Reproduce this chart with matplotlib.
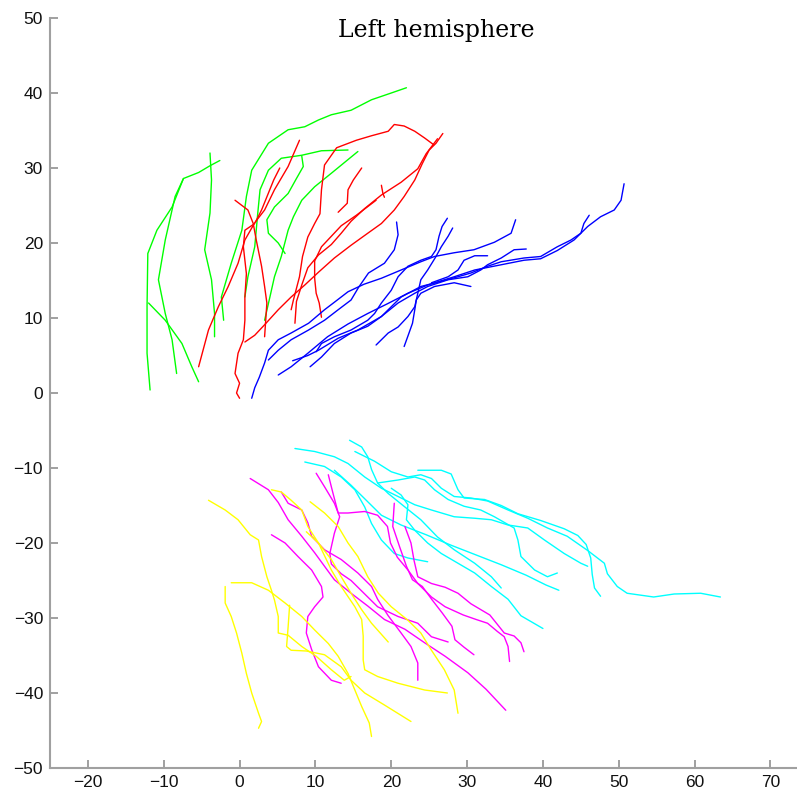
import matplotlib
matplotlib.use("Agg")
import matplotlib.pyplot as plt

# tracked paths, one list per path, grouped by colour (x, y in mm)
green_x = [
    [-11.8, -12.2, -12.2, -12.1, -10.9, -8.9, -7.4, -5.4, -3.9, -2.6],
    [-7.4, -8.5, -9.8, -10.7, -9.8, -8.9, -8.3],
    [-5.4, -6.3, -7.6, -9.8, -12.0],
    [-3.9, -3.7, -3.9, -4.6, -3.7, -3.3, -3.3],
    [-2.1, -2.4, -1.1, 0.3, 0.9, 1.6, 3.8, 6.4, 8.6, 10.4, 12.1, 14.7, 17.4, 20.0, 22.0],
    [14.3, 10.8, 8.2, 5.5, 3.8, 2.7, 2.4, 2.0, 1.1, 0.7],
    [8.2, 8.4, 7.5, 6.4, 4.6, 3.6, 3.8, 5.1, 6.0],
    [15.6, 12.1, 9.9, 8.2, 7.1, 6.4, 5.5, 4.6, 4.0, 3.3],
]
green_y = [
    [0.4, 5.3, 11.5, 18.6, 21.7, 24.8, 28.6, 29.4, 30.3, 31.0],
    [28.6, 26.2, 20.4, 15.1, 10.6, 7.1, 2.6],
    [1.5, 3.5, 6.6, 9.7, 12.0],
    [32.0, 28.4, 24.0, 19.1, 15.1, 10.6, 7.5],
    [9.7, 12.8, 17.3, 21.7, 26.2, 29.7, 33.3, 35.1, 35.5, 36.4, 37.1, 37.7, 39.1, 40.0, 40.7],
    [32.4, 32.3, 31.7, 31.3, 29.7, 27.1, 24.0, 19.5, 15.5, 12.8],
    [31.6, 30.2, 28.6, 26.6, 24.8, 23.1, 21.3, 20.0, 18.6],
    [32.2, 29.3, 27.5, 25.7, 23.5, 21.7, 18.2, 15.5, 12.8, 9.7],
]

red_x = [
    [7.9, 6.4, 4.6, 3.3, 2.0, 0.7, -0.2, -1.5, -2.8, -4.1, -5.4],
    [-0.6, 1.1, 1.8, 2.2, 2.9, 3.3, 3.6, 3.3],
    [2.0, 0.7, 0.5, 0.9, 0.7, 0.7, 0.5, -0.2, -0.6, 0.0, -0.4, 0.0],
    [26.8, 25.9, 25.0, 24.1, 23.1, 21.7, 20.4, 18.7, 16.9, 14.7, 12.5, 10.4, 8.6, 6.8, 5.1, 3.3, 2.0, 0.7],
    [26.1, 24.6, 23.5, 21.3, 18.7, 16.5, 14.7, 13.4, 12.1, 10.4, 9.0, 8.2, 7.5, 7.3],
    [6.8, 7.1, 7.9, 8.3, 9.0, 9.9, 10.6, 10.8, 11.2, 12.8, 15.4, 17.4, 19.6, 20.4, 21.7, 23.1, 24.4, 25.6],
    [18.0, 15.4, 13.4, 12.1, 10.8, 9.9, 9.9, 10.1, 10.5, 10.8],
    [16.1, 15.0, 14.3, 14.2, 13.0],
    [18.7, 18.9, 19.1],
    [5.3, 4.5, 3.7, 2.9, 2.1],
]
red_y = [
    [33.7, 30.2, 27.1, 24.4, 22.7, 20.4, 17.3, 14.2, 11.5, 8.4, 3.5],
    [25.7, 24.4, 22.6, 20.4, 16.9, 14.2, 12.0, 7.5],
    [22.6, 21.7, 19.5, 15.9, 12.8, 9.7, 7.1, 5.3, 2.6, 1.3, 0.0, -0.7],
    [34.6, 33.3, 32.4, 30.6, 28.4, 26.2, 24.4, 22.6, 21.3, 19.7, 18.0, 16.1, 14.4, 12.8, 11.1, 9.1, 7.7, 6.8],
    [33.9, 31.9, 29.9, 28.1, 26.4, 24.6, 22.9, 21.3, 19.8, 18.4, 16.7, 14.4, 12.2, 9.3],
    [11.1, 12.4, 15.5, 18.2, 20.8, 22.6, 23.9, 27.1, 30.4, 32.7, 33.7, 34.3, 34.9, 35.8, 35.6, 34.9, 34.0, 33.1],
    [25.7, 23.7, 22.3, 20.9, 19.5, 17.6, 15.3, 13.3, 12.0, 10.1],
    [30.0, 28.4, 27.1, 25.3, 24.1],
    [27.7, 26.6, 26.1],
    [30.0, 28.4, 26.4, 24.4, 22.8],
]

blue_x = [
    [1.6, 2.0, 2.6, 3.3, 3.8, 5.1, 6.8, 9.1, 11.2, 12.5, 14.3, 16.4, 18.7, 21.3, 23.9, 25.7, 28.3, 30.9, 33.6, 35.8, 36.4],
    [5.1, 6.8, 9.0, 11.6, 14.3, 16.9, 19.5, 22.2, 24.8, 28.3, 31.0, 34.5, 37.5, 39.7, 41.9, 44.1, 45.9, 47.6, 49.4, 50.3, 50.7],
    [7.0, 9.0, 10.4, 13.0, 15.6, 18.7, 21.3, 23.9, 26.6, 28.8, 30.5, 32.7, 34.5, 37.5, 39.7, 41.9, 43.7, 45.0, 45.4, 46.1],
    [9.3, 10.8, 12.5, 14.7, 16.9, 18.7, 20.9, 23.1, 24.8, 27.5, 30.1, 31.8, 32.7, 34.5, 36.2, 37.8],
    [20.7, 20.9, 20.4, 19.1, 17.0, 15.7, 14.7, 13.0, 11.2, 9.1, 6.8, 5.1, 3.8],
    [27.4, 26.7, 26.3, 25.9, 25.3, 23.9, 22.2, 20.9, 20.0, 18.7, 17.8, 16.9, 14.7, 12.5, 10.8, 10.1],
    [28.1, 27.5, 26.6, 25.9, 24.8, 23.9, 23.5, 23.1, 22.2, 20.9, 19.6, 18.0],
    [21.7, 22.2, 22.8, 23.1, 23.3, 23.9, 25.7, 28.3, 30.5],
    [32.7, 31.0, 29.6, 28.8, 27.5, 25.3],
]
blue_y = [
    [-0.7, 0.7, 2.1, 4.0, 5.7, 7.1, 8.0, 9.3, 11.1, 12.1, 13.5, 14.5, 15.3, 16.4, 17.5, 18.2, 18.7, 19.1, 20.1, 21.3, 23.1],
    [2.4, 3.5, 5.3, 7.5, 9.2, 10.6, 11.9, 13.3, 14.4, 15.5, 16.4, 17.1, 17.7, 17.9, 19.0, 20.4, 22.2, 23.5, 24.4, 25.7, 27.9],
    [4.3, 5.0, 5.7, 7.3, 8.4, 10.2, 12.8, 14.2, 14.9, 15.5, 16.0, 16.9, 17.5, 18.0, 18.2, 19.5, 20.4, 21.3, 22.6, 23.7],
    [3.5, 4.8, 6.6, 8.0, 8.9, 10.2, 12.0, 13.3, 14.2, 15.1, 15.5, 16.4, 17.1, 18.0, 19.1, 19.2],
    [22.8, 21.1, 19.1, 17.3, 16.0, 14.1, 12.4, 11.1, 9.7, 8.4, 7.1, 5.7, 4.4],
    [23.3, 22.2, 20.9, 19.1, 18.2, 17.7, 16.9, 15.5, 13.7, 12.0, 10.6, 9.7, 8.4, 7.5, 6.6, 5.5],
    [22.0, 20.9, 19.5, 18.2, 16.4, 15.1, 13.3, 11.5, 10.2, 8.8, 8.0, 6.4],
    [6.2, 7.6, 9.3, 11.1, 12.4, 13.3, 14.2, 14.7, 14.2],
    [18.3, 18.3, 17.7, 16.4, 15.5, 14.7],
]

cyan_x = [
    [7.3, 9.9, 12.5, 14.3, 16.5, 18.7, 20.9, 23.1, 25.3, 28.3, 31.0, 33.2, 35.4, 38.0, 40.2, 42.8, 45.0, 45.9],
    [8.6, 11.2, 13.4, 15.2, 16.5, 17.4, 18.7, 20.4, 22.2, 24.8],
    [14.5, 16.1, 16.9, 17.4, 18.2, 19.6, 21.8, 23.9, 26.1, 28.3, 31.0, 33.2, 34.5],
    [15.2, 17.8, 20.0, 22.2, 23.9, 25.3, 26.6, 28.3, 30.5, 32.7, 35.4, 38.0, 40.6, 43.2, 45.9, 48.1, 48.5, 49.8, 51.1, 54.6, 57.3, 60.8, 63.4],
    [23.5, 26.6, 27.9, 28.8, 29.6, 32.3, 34.5, 36.7, 39.7, 42.8, 44.6, 45.7, 46.3, 46.5, 46.8, 47.6],
    [18.2, 20.9, 23.1, 24.4, 25.7, 27.5, 29.6, 31.8, 33.6, 36.2, 36.7, 37.1, 38.9, 40.6, 41.9],
    [20.0, 21.3, 22.2, 22.0, 23.1, 24.8, 26.6, 28.8, 31.0, 33.2, 35.4, 37.1, 40.0],
    [12.5, 14.7, 16.7, 18.7, 21.3, 24.6, 27.9, 31.2, 34.5, 37.8, 40.4, 42.1],
]
cyan_y = [
    [-7.4, -7.8, -8.5, -9.4, -11.2, -12.7, -13.8, -14.9, -15.6, -16.5, -16.7, -16.9, -17.6, -18.0, -19.6, -21.4, -22.7, -23.1],
    [-9.2, -9.8, -11.2, -12.9, -15.2, -17.4, -19.6, -21.4, -22.0, -22.5],
    [-6.3, -7.2, -8.5, -10.2, -12.0, -13.4, -15.2, -16.9, -19.2, -20.9, -22.7, -24.5, -26.0],
    [-7.8, -9.1, -10.5, -11.2, -10.9, -11.4, -12.7, -13.8, -14.0, -14.4, -15.6, -16.7, -18.0, -19.1, -21.0, -22.7, -24.1, -25.8, -26.7, -27.2, -26.8, -26.7, -27.2],
    [-10.3, -10.3, -10.8, -12.9, -14.0, -14.2, -15.0, -16.1, -17.0, -18.1, -19.0, -20.2, -22.0, -24.2, -26.0, -27.1],
    [-12.0, -11.6, -11.2, -11.6, -12.9, -14.2, -15.1, -15.6, -16.5, -18.0, -19.6, -21.8, -23.6, -24.5, -24.0],
    [-12.7, -13.6, -14.9, -16.9, -18.3, -20.0, -21.4, -22.7, -24.0, -25.8, -27.5, -29.7, -31.4],
    [-10.3, -12.3, -14.3, -16.3, -17.6, -18.9, -20.3, -21.6, -22.9, -24.3, -25.6, -26.3],
]

magenta_x = [
    [1.4, 3.8, 5.1, 6.4, 8.2, 9.9, 11.2, 12.5, 14.7, 16.9, 19.1, 21.8, 24.4, 27.1, 30.1, 32.5, 35.1],
    [4.2, 6.0, 7.7, 9.5, 10.8, 11.0, 9.9, 9.0, 8.8, 9.5, 10.4, 12.1, 13.4],
    [5.5, 6.4, 8.2, 9.0, 9.5, 11.2, 13.4, 15.6, 17.4, 18.2, 19.6, 21.3, 22.6, 23.5, 23.5],
    [10.1, 11.2, 12.5, 13.2, 12.5, 11.9, 12.1, 13.4, 14.7, 16.5, 18.2, 20.9, 23.5, 25.3, 27.5],
    [11.7, 12.3, 13.0, 14.3, 16.5, 18.2, 19.5, 19.9, 20.8, 22.2, 23.5, 25.3, 27.1, 29.5, 31.2, 32.7, 34.0, 34.9, 35.4, 35.6],
    [20.4, 20.2, 21.1, 22.0, 22.8, 24.1, 25.4, 26.7, 28.0, 28.4, 29.6, 30.9],
    [21.8, 22.6, 23.0, 23.5, 25.3, 27.1, 28.8, 30.5, 33.0, 34.9, 36.2, 37.1, 37.5],
]
magenta_y = [
    [-11.4, -12.9, -14.6, -16.9, -19.1, -21.3, -23.1, -24.9, -26.7, -28.4, -30.2, -31.5, -33.3, -35.1, -37.3, -39.5, -42.3],
    [-18.9, -20.0, -21.8, -23.6, -25.8, -27.2, -28.5, -29.8, -32.0, -34.2, -36.5, -38.3, -38.7],
    [-13.2, -14.7, -15.6, -17.3, -19.1, -20.9, -22.2, -24.0, -25.8, -27.5, -29.7, -32.0, -33.8, -36.0, -38.3],
    [-10.7, -12.5, -14.7, -16.5, -18.7, -21.4, -22.8, -24.1, -25.0, -26.8, -28.5, -29.8, -30.7, -32.5, -33.2],
    [-10.9, -13.3, -16.0, -16.0, -15.8, -16.3, -17.8, -20.0, -21.9, -23.6, -25.4, -27.2, -28.5, -29.6, -30.2, -30.7, -31.8, -32.5, -33.8, -35.8],
    [-14.7, -17.8, -20.5, -23.1, -24.9, -25.8, -27.6, -29.3, -31.1, -32.9, -33.9, -34.9],
    [-17.8, -20.0, -22.3, -24.5, -25.4, -25.9, -26.7, -28.1, -29.6, -32.0, -32.4, -33.3, -34.5],
]

yellow_x = [
    [-4.1, -1.9, -0.2, 1.4, 2.5, 2.9, 3.6, 4.2, 4.6, 5.1, 5.1, 6.4, 8.2, 10.1, 12.1, 13.8, 14.7],
    [-1.9, -1.9, -1.1, -0.4, 0.3, 0.9, 1.6, 2.5, 2.9, 2.5],
    [-1.1, 1.6, 3.8, 6.0, 8.2, 9.9, 11.7, 13.0, 14.3, 15.2, 16.1, 17.1, 17.4],
    [4.2, 5.5, 6.8, 8.2, 9.0, 10.4, 12.1, 13.4, 14.7, 16.1, 17.4, 19.6],
    [9.3, 11.2, 13.0, 14.3, 15.6, 16.9, 18.3, 20.0, 22.2, 23.9, 25.3, 27.0, 28.3, 28.8],
    [8.8, 10.4, 12.1, 13.4, 15.2, 16.1, 16.3, 16.3, 16.5, 18.2, 20.9, 24.4, 27.4],
    [6.6, 6.4, 6.2, 6.8, 8.8, 11.2, 13.4, 14.7, 16.5, 19.1, 22.6],
]
yellow_y = [
    [-14.3, -15.6, -16.9, -18.9, -19.6, -21.8, -24.5, -26.3, -27.6, -29.8, -32.0, -32.3, -33.8, -35.1, -36.9, -38.3, -37.8],
    [-25.8, -28.0, -29.8, -32.0, -34.7, -37.4, -40.0, -42.7, -43.8, -44.7],
    [-25.3, -25.3, -26.3, -28.0, -29.8, -31.6, -33.4, -35.1, -37.4, -39.6, -41.8, -44.0, -45.8],
    [-12.9, -13.2, -14.3, -15.6, -17.8, -20.0, -22.2, -24.5, -26.7, -28.9, -30.7, -33.2],
    [-14.5, -16.0, -17.8, -20.0, -21.8, -24.5, -26.7, -28.5, -30.3, -32.0, -34.3, -36.9, -39.6, -42.7],
    [-18.5, -20.0, -23.6, -25.8, -28.5, -30.2, -32.4, -35.6, -36.9, -37.8, -38.7, -39.6, -40.0],
    [-28.3, -31.2, -33.8, -34.3, -34.4, -34.9, -36.5, -38.3, -40.0, -41.6, -43.8],
]

groups = [
    (green_x, green_y, '#00ff00'),
    (red_x, red_y, '#ff0000'),
    (blue_x, blue_y, '#0000ff'),
    (cyan_x, cyan_y, '#00ffff'),
    (magenta_x, magenta_y, '#ff00ff'),
    (yellow_x, yellow_y, '#ffff00'),
]

fig = plt.figure(figsize=(7.97, 8.0), dpi=100)
ax = fig.add_axes([0.0627, 0.040, 0.9373, 0.9375])

for xs, ys, col in groups:
    for x, y in zip(xs, ys):
        ax.plot(x, y, color=col, linewidth=1.0, solid_capstyle='round',
                solid_joinstyle='round')

ax.set_xlim(-25, 73.5)
ax.set_ylim(-50, 50)
ax.set_xticks(range(-20, 71, 10))
ax.set_yticks(range(-50, 51, 10))

for side in ['top', 'right']:
    ax.spines[side].set_visible(False)
for side in ['left', 'bottom']:
    ax.spines[side].set_color('#a0a0a0')
    ax.spines[side].set_linewidth(1.5)
ax.tick_params(direction='in', length=6, width=1.2, color='#909090',
               labelsize=12.5, labelcolor='#111111', pad=5)
for lab in ax.get_xticklabels() + ax.get_yticklabels():
    lab.set_family('Liberation Sans')

ax.text(25.9, 47.5, 'Left hemisphere', ha='center', va='baseline',
        fontsize=17, family='DejaVu Serif', color='black')

fig.savefig('out.png', dpi=100)
